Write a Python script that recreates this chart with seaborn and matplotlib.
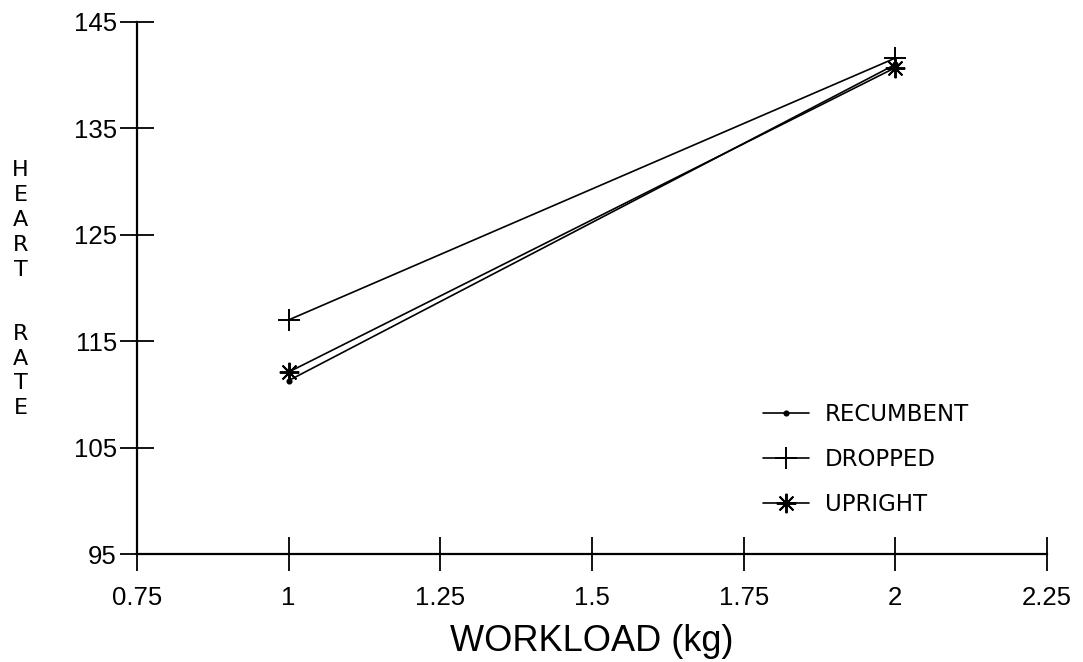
import matplotlib
matplotlib.use("Agg")
import matplotlib.pyplot as plt
import seaborn as sns
import pandas as pd

# Data
workload = [1, 2]
recumbent = [111.3, 141.0]
dropped = [117.0, 141.6]
upright = [112.1, 140.7]
series_names = ["RECUMBENT", "DROPPED", "UPRIGHT"]
x_ticks = [0.75, 1, 1.25, 1.5, 1.75, 2, 2.25]
x_tick_labels = ["0.75", "1", "1.25", "1.5", "1.75", "2", "2.25"]
y_ticks = [95, 105, 115, 125, 135, 145]

series_values = [recumbent, dropped, upright]

sns.set_theme(style="ticks")
plt.rcParams["font.family"] = ["Liberation Sans", "DejaVu Sans"]
plt.rcParams["text.color"] = "black"
plt.rcParams["axes.labelcolor"] = "black"

fig = plt.figure(figsize=(10.83, 6.62), dpi=100)
ax = fig.add_axes([0.1265, 0.163, 0.9668 - 0.1265, 0.967 - 0.163])

markers = {"RECUMBENT": "o", "DROPPED": "+", "UPRIGHT": (8, 2, 0)}
sizes = {"RECUMBENT": 3, "DROPPED": 16, "UPRIGHT": 14}
for name, vals in zip(series_names, series_values):
    df = pd.DataFrame({"workload": workload, "hr": vals})
    sns.lineplot(data=df, x="workload", y="hr", color="black",
                 marker=markers[name], markersize=sizes[name],
                 markeredgewidth=1.4, markeredgecolor="black",
                 markerfacecolor="black", linewidth=1.2, ax=ax)

ax.set_xlim(0.75, 2.25)
ax.set_ylim(95, 145)
ax.set_xticks(x_ticks)
ax.set_xticklabels(x_tick_labels)
ax.set_yticks(y_ticks)
ax.tick_params(direction="inout", length=24, width=1.3, colors="black",
               labelsize=18.5, labelcolor="black")
ax.tick_params(axis="y", pad=2.5)
ax.tick_params(axis="x", pad=11)
for s in ["top", "right"]:
    ax.spines[s].set_visible(False)
for s in ["left", "bottom"]:
    ax.spines[s].set_linewidth(1.6)
    ax.spines[s].set_color("black")

ax.set_xlabel("WORKLOAD (kg)", fontsize=26, labelpad=10, color="black")
ax.set_ylabel("")

fig.text(0.019, 1 - 220 / 662, "\n".join("HEART"), ha="center", va="center",
         fontsize=16, linespacing=1.3, family=["DejaVu Sans"], color="black")
fig.text(0.019, 1 - 371 / 662, "\n".join("RATE"), ha="center", va="center",
         fontsize=16, linespacing=1.3, family=["DejaVu Sans"], color="black")

leg = ax.legend(ax.lines, series_names, loc="lower right",
                bbox_to_anchor=(0.937, 0.033), frameon=False,
                handlelength=2.0, labelspacing=0.95, handletextpad=0.7,
                numpoints=1, prop={"family": ["DejaVu Sans"], "size": 16.5})
for t in leg.get_texts():
    t.set_color("black")

fig.savefig("out.png", dpi=100, facecolor="white")
